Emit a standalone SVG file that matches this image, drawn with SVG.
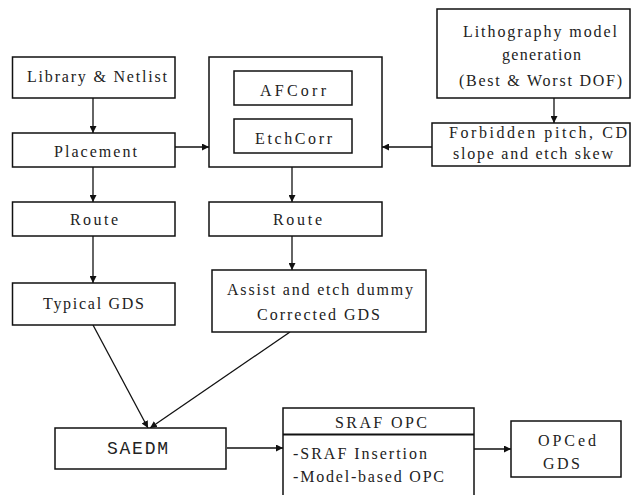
<svg xmlns="http://www.w3.org/2000/svg" width="636" height="495" viewBox="0 0 636 495">
<style>
.b{fill:#fff;stroke:#111;stroke-width:1.5}
.t{font-family:"Liberation Serif","Times New Roman",serif;font-size:16px;fill:#222}
.m{font-family:"Liberation Mono","Courier New",monospace;font-size:18px;fill:#222}
.c{fill:none;stroke:#111;stroke-width:1.3}
</style>
<defs>
<marker id="a" viewBox="0 0 10 10" refX="10" refY="5" markerWidth="7" markerHeight="7" markerUnits="userSpaceOnUse" orient="auto">
<path d="M0,0 L10,5 L0,10 z" fill="#111"/>
</marker>
</defs>
<g id="connectors">
<line class="c" x1="93" y1="98" x2="93" y2="133" marker-end="url(#a)"/>
<line class="c" x1="93" y1="167" x2="93" y2="202" marker-end="url(#a)"/>
<line class="c" x1="93" y1="236" x2="93" y2="283" marker-end="url(#a)"/>
<line class="c" x1="175" y1="147" x2="209" y2="147" marker-end="url(#a)"/>
<line class="c" x1="432" y1="147" x2="382" y2="147" marker-end="url(#a)"/>
<line class="c" x1="554" y1="98" x2="554" y2="123" marker-end="url(#a)"/>
<line class="c" x1="292" y1="105" x2="292" y2="119"/>
<line class="c" x1="292" y1="167" x2="292" y2="202" marker-end="url(#a)"/>
<line class="c" x1="292" y1="236" x2="292" y2="270" marker-end="url(#a)"/>
<line class="c" x1="93" y1="325" x2="148" y2="428" marker-end="url(#a)"/>
<line class="c" x1="290" y1="332" x2="150" y2="428" marker-end="url(#a)"/>
<line class="c" x1="227" y1="448" x2="283" y2="448" marker-end="url(#a)"/>
<line class="c" x1="474" y1="449" x2="511" y2="449" stroke-width="2" marker-end="url(#a)"/>
</g>
<g id="library">
<rect class="b" x="12.5" y="57" width="162.5" height="41"/>
<text class="t" x="27" y="82" textLength="140" lengthAdjust="spacing">Library &amp; Netlist</text>
</g>
<g id="placement">
<rect class="b" x="12.5" y="133" width="162.5" height="34"/>
<text class="t" x="54" y="157" textLength="83" lengthAdjust="spacing">Placement</text>
</g>
<g id="route1">
<rect class="b" x="12.5" y="202" width="162.5" height="34"/>
<text class="t" x="70" y="225" textLength="48" lengthAdjust="spacing">Route</text>
</g>
<g id="typical">
<rect class="b" x="12.5" y="283" width="162.5" height="42"/>
<text class="t" x="43" y="309" textLength="101" lengthAdjust="spacing">Typical GDS</text>
</g>
<g id="corr">
<rect class="b" x="209" y="57" width="173" height="110" stroke-width="2"/>
<g id="afcorr">
<rect class="b" x="234" y="71" width="118" height="34"/>
<text class="t" x="260" y="96" textLength="66" lengthAdjust="spacing">AFCorr</text>
</g>
<g id="etchcorr">
<rect class="b" x="234" y="119" width="118" height="34"/>
<text class="t" x="255" y="144" textLength="77" lengthAdjust="spacing">EtchCorr</text>
</g>
</g>
<g id="route2">
<rect class="b" x="209" y="202" width="173" height="34"/>
<text class="t" x="273" y="225" textLength="49" lengthAdjust="spacing">Route</text>
</g>
<g id="assist">
<rect class="b" x="212" y="270" width="214" height="62"/>
<text class="t" x="227" y="295" textLength="186" lengthAdjust="spacing">Assist and etch dummy</text>
<text class="t" x="257" y="320" textLength="123" lengthAdjust="spacing">Corrected GDS</text>
</g>
<g id="litho">
<rect class="b" x="437" y="9" width="193" height="89"/>
<text class="t" x="463" y="37" textLength="154" lengthAdjust="spacing">Lithography model</text>
<text class="t" x="502" y="60" textLength="79" lengthAdjust="spacing">generation</text>
<text class="t" x="459" y="86" textLength="163" lengthAdjust="spacing">(Best &amp; Worst DOF)</text>
</g>
<g id="forbidden">
<rect class="b" x="432" y="123" width="198" height="43"/>
<text class="t" x="449" y="138" textLength="178" lengthAdjust="spacing">Forbidden pitch, CD</text>
<text class="t" x="453" y="159" textLength="160" lengthAdjust="spacing">slope and etch skew</text>
</g>
<g id="saedm">
<rect class="b" x="55" y="428" width="171" height="41"/>
<text class="m" x="107" y="454" textLength="61" lengthAdjust="spacing">SAEDM</text>
</g>
<g id="sraf">
<rect class="b" x="283" y="408" width="191" height="95"/>
<line x1="283" y1="434.5" x2="474" y2="434.5" stroke="#111" stroke-width="2"/>
<text class="t" x="335" y="428" textLength="92" lengthAdjust="spacing">SRAF OPC</text>
<text class="t" x="293" y="459" textLength="134" lengthAdjust="spacing">-SRAF Insertion</text>
<text class="t" x="293" y="482" textLength="151" lengthAdjust="spacing">-Model-based OPC</text>
</g>
<g id="opced">
<rect class="b" x="511" y="421" width="110" height="56"/>
<text class="t" x="538" y="446" textLength="58" lengthAdjust="spacing">OPCed</text>
<text class="t" x="543" y="469" textLength="37" lengthAdjust="spacing">GDS</text>
</g>
</svg>
